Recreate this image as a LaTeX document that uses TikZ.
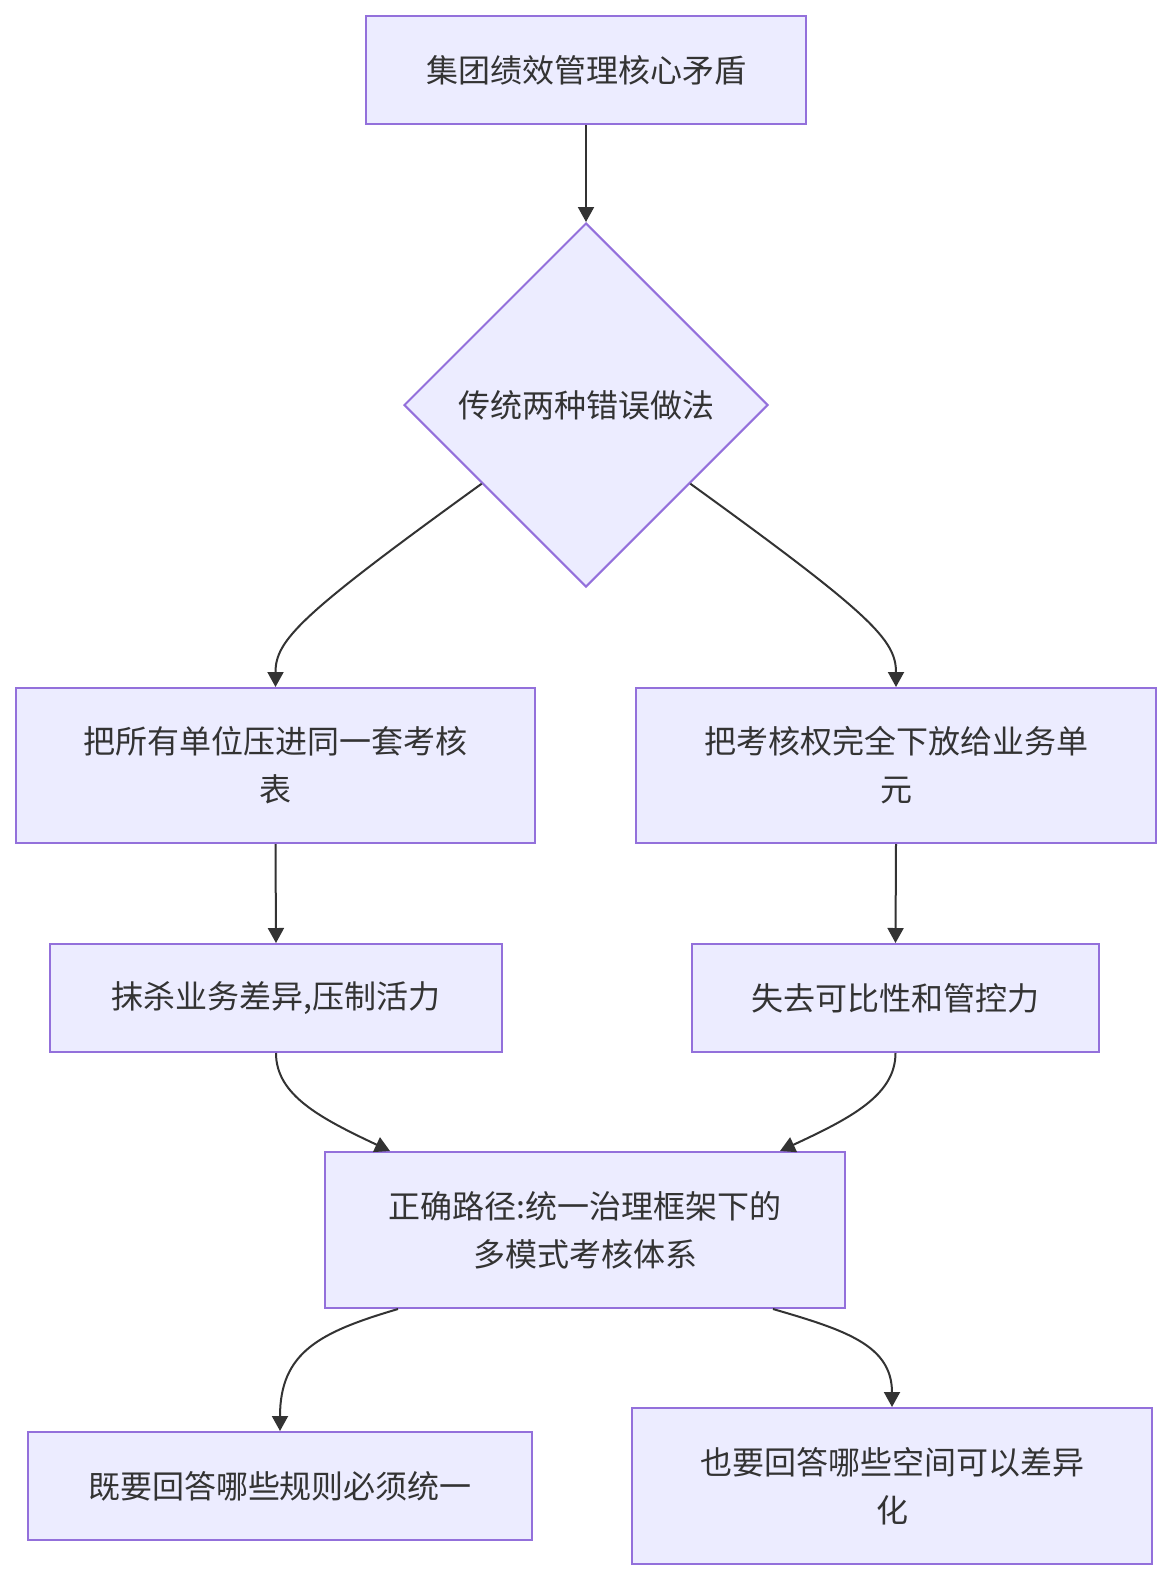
\documentclass[tikz,border=0pt]{standalone}
\usepackage{fontspec}
\usepackage{xcolor}
\usepackage{tikz}
\usetikzlibrary{
  arrows.meta,
  shapes.geometric,
  calc
}
\newfontfamily\cjk{Noto Sans CJK SC}
\definecolor{NodeFill}{HTML}{ECECFF}
\definecolor{NodeLine}{HTML}{9370DB}
\definecolor{EdgeGray}{HTML}{333333}
\tikzset{
  box/.style={
    draw=NodeLine,
    fill=NodeFill,
    line width=2pt,
    align=center,
    text=EdgeGray,
    font=\cjk\fontsize{32}{48}\selectfont,
    inner sep=0pt
  },
  process/.style={
    box,
    rectangle
  },
  decision/.style={
    box,
    diamond,
    aspect=1,
    minimum width=364pt,
    minimum height=364pt
  },
  connection/.style={
    -{Triangle[length=15pt,width=16pt]},
    draw=EdgeGray,
    line width=2pt
  }
}

\begin{document}
\begin{tikzpicture}[
  x=1pt,
  y=-1pt
]

  \useasboundingbox (0,0) rectangle (1172,1580);

  \node[
    process,
    minimum width=440pt,
    minimum height=108pt
  ] (core) at (586,70) {%
    集团绩效管理核心矛盾%
  };

  \node[
    decision
  ] (errors) at (586,405) {%
    传统两种错误做法%
  };

  \node[
    process,
    minimum width=519pt,
    minimum height=155pt
  ] (unify) at (275.5,765.5) {%
    把所有单位压进同一套考核\\表%
  };

  \node[
    process,
    minimum width=520pt,
    minimum height=155pt
  ] (delegate) at (896,765.5) {%
    把考核权完全下放给业务单\\元%
  };

  \node[
    process,
    minimum width=452pt,
    minimum height=108pt
  ] (stifle) at (276,998) {%
    抹杀业务差异,压制活力%
  };

  \node[
    process,
    minimum width=407pt,
    minimum height=108pt
  ] (lose) at (895.5,998) {%
    失去可比性和管控力%
  };

  \node[
    process,
    minimum width=520pt,
    minimum height=156pt
  ] (path) at (585,1230) {%
    正确路径:统一治理框架下的\\多模式考核体系%
  };

  \node[
    process,
    minimum width=504pt,
    minimum height=108pt
  ] (unified) at (280,1486) {%
    既要回答哪些规则必须统一%
  };

  \node[
    process,
    minimum width=520pt,
    minimum height=156pt
  ] (differ) at (892,1486) {%
    也要回答哪些空间可以差异\\化%
  };

  \draw[connection]
  (core.south) -- (errors.north);

  \draw[connection]
  ($(errors.west)!0.43!(errors.south)$)
  .. controls (300,615) and (unify.north |- 0,640) ..
  (unify.north);

  \draw[connection]
  ($(errors.east)!0.43!(errors.south)$)
  .. controls (872,615) and (delegate.north |- 0,640) ..
  (delegate.north);

  \draw[connection]
  (unify.south) -- (stifle.north);

  \draw[connection]
  (delegate.south) -- (lose.north);

  \draw[connection]
  (stifle.south)
  .. controls (stifle.south |- 0,1095) and (320,1118) ..
  ([xshift=-195pt]path.north);

  \draw[connection]
  (lose.south)
  .. controls (lose.south |- 0,1095) and (851,1118) ..
  ([xshift=195pt]path.north);

  \draw[connection]
  ([xshift=-187pt]path.south)
  .. controls (320,1332) and (unified.north |- 0,1352) ..
  (unified.north);

  \draw[connection]
  ([xshift=188pt]path.south)
  .. controls (845,1330) and (differ.north |- 0,1345) ..
  (differ.north);

\end{tikzpicture}
\end{document}
